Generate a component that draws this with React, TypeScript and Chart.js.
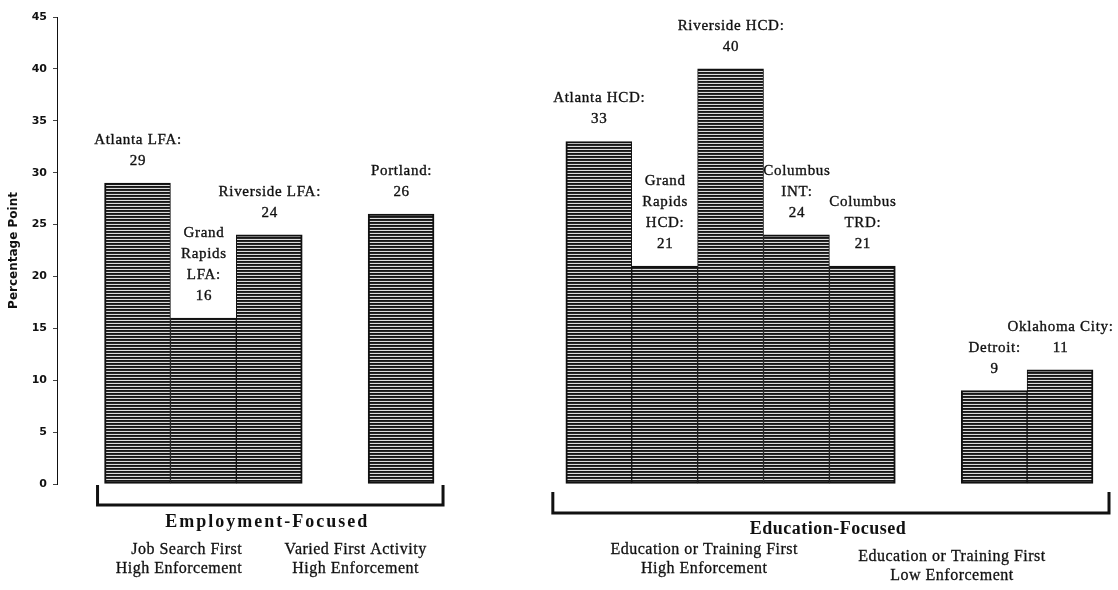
import React, { useEffect, useRef } from "react";
import { Chart, registerables } from "chart.js";

Chart.register(...registerables);

// ---- data (slot order, null = empty gap slot) ----
const CATEGORY_LINES: (string[] | null)[] = [
  ["Atlanta LFA"],
  ["Grand", "Rapids", "LFA"],
  ["Riverside LFA"],
  null,
  ["Portland"],
  null,
  null,
  ["Atlanta HCD"],
  ["Grand", "Rapids", "HCD"],
  ["Riverside HCD"],
  ["Columbus", "INT"],
  ["Columbus", "TRD"],
  null,
  ["Detroit"],
  ["Oklahoma City"],
];
const VALUES: (number | null)[] = [29, 16, 24, null, 26, null, null, 33, 21, 40, 24, 21, null, 9, 11];
const Y_TICKS = [0, 5, 10, 15, 20, 25, 30, 35, 40, 45];
const Y_TITLE = "Percentage Point";
const GROUP_TITLES = ["Employment-Focused", "Education-Focused"];
const GROUP_FIRST = [0, 7];
const GROUP_LAST = [4, 14];
const SUBGROUP_LINES = [
  ["Job Search First", "High Enforcement"],
  ["Varied First Activity", "High Enforcement"],
  ["Education or Training First", "High Enforcement"],
  ["Education or Training First", "Low Enforcement"],
];

// ---- layout / style ----
const W = 1118;
const H = 590;
const X_MIN = -1.2215;
const X_MAX = 14.682;
const SUB_ANCHOR = [1.59, 3.31, 8.6, 12.36];
const SUB_ALIGN: CanvasTextAlign[] = ["right", "center", "center", "center"];
const SUB_Y = [550, 550, 550, 557];
const SUB_GAP = 19;
const TITLE_Y = [522, 529];
const TITLE_SPACING = ["2px", "0.5px"];
const BRACKETS = [
  { padL: 7, padR: 9, top: 485, bottom: 505 },
  { padL: 13, padR: 16, top: 492, bottom: 513 },
];
const INK = "#111";

function makePattern(): CanvasPattern | string {
  const c = document.createElement("canvas");
  c.width = 4;
  c.height = 3;
  const g = c.getContext("2d");
  if (!g) return "#555";
  g.fillStyle = "#161616";
  g.fillRect(0, 0, 4, 1);
  g.fillStyle = "#2a2a2a";
  g.fillRect(0, 1, 4, 1);
  g.fillStyle = "#dcdcdc";
  g.fillRect(0, 2, 4, 1);
  const p = g.createPattern(c, "repeat");
  return p || "#555";
}

function inkText(ctx: CanvasRenderingContext2D, t: string, x: number, y: number, stroke: number) {
  ctx.fillText(t, x, y);
  if (stroke > 0) {
    ctx.lineWidth = stroke;
    ctx.strokeStyle = INK;
    ctx.strokeText(t, x, y);
  }
}

const annotationPlugin = {
  id: "annotations",
  afterDraw(chart: any) {
    const ctx: CanvasRenderingContext2D = chart.ctx;
    const xs = chart.scales.x;
    const meta = chart.getDatasetMeta(0);
    ctx.save();
    ctx.fillStyle = INK;
    ctx.textBaseline = "middle";

    // bar labels
    ctx.font = '15px "Liberation Serif"';
    ctx.textAlign = "center";
    (ctx as any).letterSpacing = "0.7px";
    meta.data.forEach((bar: any, i: number) => {
      const raw = chart.data.datasets[0].data[i] as { x: number; y: number };
      const name = CATEGORY_LINES[raw.x];
      if (!name) return;
      const lines = name.slice();
      lines[lines.length - 1] = lines[lines.length - 1] + ":";
      lines.push(String(raw.y));
      const n = lines.length;
      lines.forEach((t, k) => {
        const y = bar.y - 22 - (n - 1 - k) * 21;
        inkText(ctx, t, bar.x + 0.5, y, 0.35);
      });
    });

    // brackets + group titles
    GROUP_TITLES.forEach((title, g) => {
      const b = BRACKETS[g];
      const left = xs.getPixelForValue(GROUP_FIRST[g] - 0.5) - b.padL;
      const right = xs.getPixelForValue(GROUP_LAST[g] + 0.5) + b.padR;
      ctx.strokeStyle = INK;
      ctx.lineWidth = 3;
      ctx.lineJoin = "miter";
      ctx.beginPath();
      ctx.moveTo(left, b.top);
      ctx.lineTo(left, b.bottom);
      ctx.lineTo(right, b.bottom);
      ctx.lineTo(right, b.top);
      ctx.stroke();

      ctx.font = 'bold 18px "Liberation Serif"';
      (ctx as any).letterSpacing = TITLE_SPACING[g];
      ctx.textAlign = "center";
      ctx.fillText(title, (left + right) / 2 - 3, TITLE_Y[g]);
    });

    // sub-group descriptions
    ctx.font = '16px "Liberation Serif"';
    (ctx as any).letterSpacing = "0.5px";
    SUBGROUP_LINES.forEach((lines, s) => {
      ctx.textAlign = SUB_ALIGN[s];
      const x = xs.getPixelForValue(SUB_ANCHOR[s]);
      lines.forEach((t, k) => inkText(ctx, t, x, SUB_Y[s] + k * SUB_GAP, 0.3));
    });
    ctx.restore();
  },
};

export default function App() {
  const ref = useRef<HTMLCanvasElement | null>(null);

  useEffect(() => {
    document.body.style.margin = "0";
    const canvas = ref.current;
    if (!canvas) return;
    const pattern = makePattern();
    const points = VALUES.map((v, i) => (v == null ? null : { x: i, y: v })).filter(
      (p) => p !== null
    ) as { x: number; y: number }[];

    const chart = new Chart(canvas, {
      type: "bar",
      data: {
        datasets: [
          {
            data: points as any,
            backgroundColor: pattern as any,
            borderColor: INK,
            borderSkipped: false,
            borderWidth: ((c: any) => {
              const raw = c.raw as { x: number } | undefined;
              if (!raw) return 2;
              const hasL = VALUES[raw.x - 1] != null;
              const hasR = VALUES[raw.x + 1] != null;
              return { top: 2, bottom: 2, left: hasL ? 1 : 2, right: hasR ? 1 : 2 };
            }) as any,
            barPercentage: 1,
            categoryPercentage: 1,
          },
        ],
      },
      options: {
        responsive: false,
        animation: false,
        layout: { padding: { top: 17, bottom: H - 484, right: 13, left: 0 } },
        plugins: {
          legend: { display: false },
          tooltip: { enabled: false },
        },
        scales: {
          x: {
            type: "linear",
            display: false,
            offset: false,
            min: X_MIN,
            max: X_MAX,
            grid: { display: false },
            afterBuildTicks: (s: any) => {
              s.ticks = VALUES.map((_, i) => ({ value: i }));
            },
          },
          y: {
            type: "linear",
            min: 0,
            max: 45,
            afterBuildTicks: (s: any) => {
              s.ticks = Y_TICKS.map((v) => ({ value: v }));
            },
            afterFit: (s: any) => {
              s.width = 57;
            },
            ticks: {
              color: INK,
              padding: 6,
              font: { family: "DejaVu Sans", weight: "bold", size: 11 },
            },
            grid: { drawOnChartArea: false, tickLength: 4, color: "#444" },
            border: { color: INK, width: 1 },
            title: {
              display: true,
              text: Y_TITLE,
              color: INK,
              font: { family: "DejaVu Sans", weight: "bold", size: 12 },
              padding: { top: 7, bottom: 0 },
            },
          },
        },
      },
      plugins: [annotationPlugin],
    } as any);

    return () => chart.destroy();
  }, []);

  return (
    <div style={{ width: W, height: H, background: "#fff" }}>
      <canvas ref={ref} width={W} height={H} style={{ display: "block" }} />
    </div>
  );
}
